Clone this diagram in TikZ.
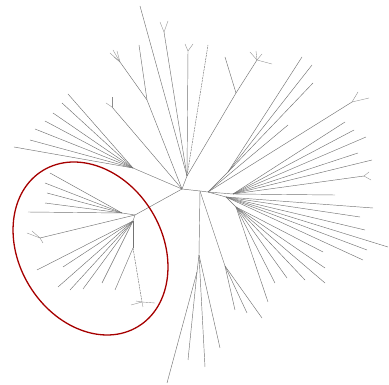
\documentclass[tikz,border=0pt]{standalone}
\begin{document}
\begin{tikzpicture}[x=1pt,y=-1pt,
  br/.style={draw=black!55, line width=0.45pt},
  tw/.style={draw=black!45, line width=0.35pt},
  dsh/.style={br, dash pattern=on 2pt off 0.8pt},
  ring/.style={draw=red!65!black, line width=1.3pt}]
\useasboundingbox (0,0) rectangle (389,385);
% main hubs
\coordinate (A) at (182,189);
\coordinate (U) at (187,176);
\coordinate (B) at (200,191);
\coordinate (R) at (208,192);
\coordinate (L) at (135,215);
\draw[br] (A) -- (U);
\draw[br] (A) -- (B) -- (R);
\draw[br] (A) -- (L);
% ---------- upper clade ----------
\coordinate (u1) at (140,6);
\draw[br] (U) -- (u1);
\coordinate (F2) at (164,32);
\draw[br] (U) -- (F2);
\foreach \x/\y [count=\i] in {160/22,168/21} {\coordinate (f2t\i) at (\x,\y); \draw[tw] (F2) -- (f2t\i);}
\coordinate (F1) at (188,51);
\draw[br] (U) -- (F1);
\foreach \x/\y [count=\i] in {185/44,193/44} {\coordinate (f1t\i) at (\x,\y); \draw[tw] (F1) -- (f1t\i);}
\coordinate (u3) at (208,45);
\draw[dsh] (U) -- (u3);
\coordinate (N1) at (236,93);
\coordinate (N0) at (257,60);
\coordinate (u4) at (225,57);
\draw[br] (U) -- (N1) -- (N0);
\draw[br] (N1) -- (u4);
\foreach \x/\y [count=\i] in {250/52,256/51,262/54,272/64} {\coordinate (n0t\i) at (\x,\y); \draw[tw] (N0) -- (n0t\i);}
% upper-left to A
\coordinate (M) at (147,100);
\coordinate (m1) at (139,45);
\coordinate (K) at (120,62);
\draw[br] (A) -- (M) -- (m1);
\draw[br] (M) -- (K);
\foreach \x/\y [count=\i] in {110/53,113/50,117/51,114/57} {\coordinate (kt\i) at (\x,\y); \draw[tw] (K) -- (kt\i);}
\coordinate (G) at (112,107);
\draw[br] (A) -- (G);
\foreach \x/\y [count=\i] in {112/97,106/103} {\coordinate (gt\i) at (\x,\y); \draw[tw] (G) -- (gt\i);}
\coordinate (P) at (133,168);
\draw[br] (A) -- (P);
\foreach \x/\y [count=\i] in {68/94,62/103,53/113,45/121,35/129,30/140,14/147} {\coordinate (p\i) at (\x,\y); \draw[br] (P) -- (p\i);}
% ---------- right clade ----------
\coordinate (RU) at (228,172);
\draw[br] (R) -- (RU);
\foreach \x/\y [count=\i] in {302/57,312/65,313/83} {\coordinate (ru\i) at (\x,\y); \draw[br] (RU) -- (ru\i);}
\coordinate (r1) at (288,125);
\draw[br] (R) -- (r1);
\coordinate (RF) at (352,102);
\draw[br] (R) -- (RF);
\foreach \x/\y [count=\i] in {358/92,369/98} {\coordinate (rft\i) at (\x,\y); \draw[tw] (RF) -- (rft\i);}
\coordinate (RL) at (233,194);
\draw[br] (R) -- (RL);
\foreach \x/\y [count=\i] in {345/122,354/130,366/137,358/153,372/160,335/195} {\coordinate (rl\i) at (\x,\y); \draw[br] (RL) -- (rl\i);}
\coordinate (RT) at (364,176);
\draw[br] (RL) -- (RT);
\foreach \x/\y [count=\i] in {369/172,371/180} {\coordinate (rtt\i) at (\x,\y); \draw[tw] (RT) -- (rtt\i);}
\coordinate (RL2) at (226,197);
\draw[br] (R) -- (RL2);
\foreach \x/\y [count=\i] in {373/208,360/217,365/230,388/247,367/250,363/260} {\coordinate (rm\i) at (\x,\y); \draw[br] (RL2) -- (rm\i);}
\coordinate (RL3) at (236,207);
\draw[br] (RL2) -- (RL3);
\foreach \x/\y [count=\i] in {323/252,325/268,325/283,305/280,287/278,275/283,268/302} {\coordinate (rn\i) at (\x,\y); \draw[br] (RL3) -- (rn\i);}
% ---------- bottom clade ----------
\coordinate (V0) at (199,255);
\draw[br] (B) -- (V0);
\coordinate (BB) at (197,272);
\draw[br] (V0) -- (BB);
\foreach \x/\y [count=\i] in {167/383,188/360} {\coordinate (bb\i) at (\x,\y); \draw[br] (BB) -- (bb\i);}
\foreach \x/\y [count=\i] in {205/367,220/348} {\coordinate (bv\i) at (\x,\y); \draw[br] (V0) -- (bv\i);}
\coordinate (BR) at (225,266);
\draw[br] (B) -- (BR);
\foreach \x/\y [count=\i] in {235/310,247/313,262/318} {\coordinate (brl\i) at (\x,\y); \draw[br] (BR) -- (brl\i);}
% ---------- circled clade ----------
\coordinate (Q) at (122,213);
\draw[br] (L) -- (Q);
\foreach \x/\y [count=\i] in {50/173,45/183,47/193,45/203,28/212} {\coordinate (q\i) at (\x,\y); \draw[br] (Q) -- (q\i);}
\coordinate (T1) at (40,238);
\draw[br] (L) -- (T1);
\foreach \x/\y [count=\i] in {27/233,32/231,43/243} {\coordinate (t1t\i) at (\x,\y); \draw[tw] (T1) -- (t1t\i);}
\coordinate (L2) at (133,221);
\draw[br] (L) -- (L2);
\coordinate (V) at (133,248);
\coordinate (W) at (142,302);
\draw[br] (L2) -- (V);
\draw[dsh] (V) -- (W);
\foreach \x/\y [count=\i] in {131/305,155/303,143/307,136/301} {\coordinate (wt\i) at (\x,\y); \draw[tw] (W) -- (wt\i);}
\coordinate (v1) at (115,290);
\draw[br] (V) -- (v1);
\foreach \x/\y [count=\i] in {37/270,63/267,58/287,70/290,83/289,102/283} {\coordinate (l\i) at (\x,\y); \draw[br] (L2) -- (l\i);}
% ---------- ellipse ----------
\coordinate (E) at (90.5,248.5);
\draw[ring, rotate around={-58.6:(E)}] (E) ellipse [x radius=91.4, y radius=71.6];
\end{tikzpicture}
\end{document}
